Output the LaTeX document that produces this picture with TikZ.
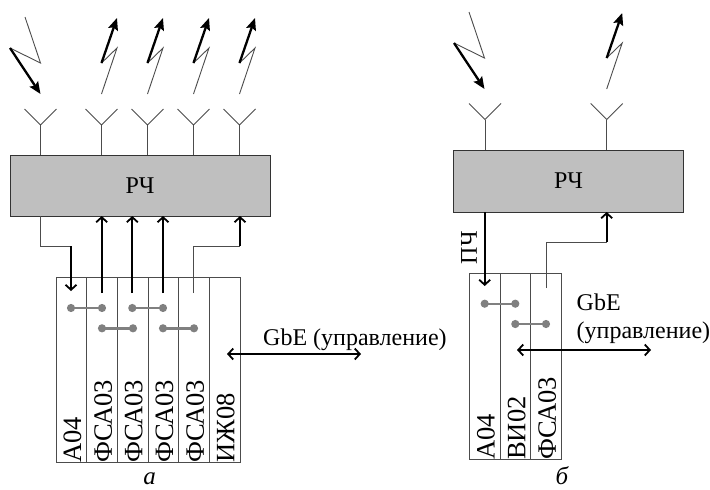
\documentclass[tikz,border=0pt]{standalone}
\usepackage{fontspec}
\setmainfont{Liberation Serif}
\usetikzlibrary{arrows.meta}
\tikzset{
  thin line/.style={draw=black!70,line width=0.9pt},
  thick line/.style={draw=black,line width=2.3pt},
  bolt arrow/.style={thick line,-{Stealth[length=12pt,width=10pt,inset=2pt]}},
  bus arrow/.style={thick line,-{Straight Barb[length=5pt,width=11pt,line width=1.8pt]}},
  both arrow/.style={thick line,{Straight Barb[length=5pt,width=11pt,line width=1.8pt]}-{Straight Barb[length=5pt,width=11pt,line width=1.8pt]}},
  rfbox/.style={draw=black!80,fill=black!25,line width=1pt,inner sep=0pt,outer sep=0pt,font=\fontsize{24}{26}\selectfont},
  slotbox/.style={draw=black!70,line width=0.9pt,inner sep=0pt,outer sep=0pt,anchor=north west},
  slotlabel/.style={rotate=90,anchor=west,inner sep=0pt,font=\fontsize{26.5}{28}\selectfont},
  link/.style={draw=black!50,line width=2.4pt,{Circle[length=8pt]}-{Circle[length=8pt]},shorten <=-4pt,shorten >=-4pt},
  txt/.style={inner sep=0pt,anchor=base west,font=\fontsize{24}{26}\selectfont},
  panel/.style={inner sep=0pt,anchor=base,font=\fontsize{25}{27}\selectfont\itshape}
}
\newcommand{\antenna}[3]{% x, y of fork, name
  \coordinate (#3) at (#1,#2);
  \coordinate (#3l) at (#1-16,#2-16);
  \coordinate (#3r) at (#1+16,#2-16);
  \draw[thin line] (#3l) -- (#3) -- (#3r);
}
\newcommand{\boltup}[3]{% x,y bottom, name
  \coordinate (#3a) at (#1,#2);
  \coordinate (#3b) at (#1+15.5,#2-46);
  \coordinate (#3c) at (#1,#2-31);
  \coordinate (#3d) at (#1+15.5,#2-76);
  \draw[thin line] (#3a) -- (#3b) -- (#3c);
  \draw[bolt arrow] (#3c) -- (#3d);
}
\newcommand{\boltdown}[3]{% x,y top, name
  \coordinate (#3a) at (#1,#2);
  \coordinate (#3b) at (#1+15.5,#2+46);
  \coordinate (#3c) at (#1-15,#2+31);
  \coordinate (#3d) at (#1+15.5,#2+77);
  \draw[thin line] (#3a) -- (#3b) -- (#3c);
  \draw[bolt arrow] (#3c) -- (#3d);
}
\begin{document}
\begin{tikzpicture}[x=1pt,y=-1pt]
\useasboundingbox (0,0) rectangle (710,490);
% ---------- panel a
\node[rfbox,minimum width=260pt,minimum height=61pt] (rfa) at (140,185.5) {РЧ};
\boltdown{25}{17}{la}
\boltup{101.5}{94}{lb}
\boltup{147.5}{94}{lc}
\boltup{193.5}{94}{ld}
\boltup{239.5}{94}{le}
\antenna{40.5}{125}{aa}
\antenna{101.5}{125}{ab}
\antenna{147.5}{125}{ac}
\antenna{193.5}{125}{ad}
\antenna{239.5}{125}{ae}
\foreach \n in {aa,ab,ac,ad,ae} \draw[thin line] (\n) -- (\n |- rfa.north);
% slots
\foreach \nm/\x/\t in {s1/56/А04,s2/86.7/ФСА03,s3/117.3/ФСА03,s4/148/ФСА03,s5/178.7/ФСА03,s6/209.3/ИЖ08}{
  \node[slotbox,minimum width=30.7pt,minimum height=185pt] (\nm) at (\x,277) {};
  \node[slotlabel] (\nm t) at ([xshift=16.5pt,yshift=-1pt]\nm.south west) {\t};
}
% connectors
\coordinate (p1) at (71,246);
\coordinate (p1e) at (71,291);
\draw[thin line] (rfa.south -| aa) |- (p1);
\draw[bus arrow] (p1) -- (p1e);
\foreach \nm/\x in {u2/101.7,u3/132.3,u4/163}{
  \coordinate (\nm) at (\x,293);
  \draw[bus arrow] (\nm) -- (\nm |- rfa.south);
}
\coordinate (u5) at (193.7,293);
\coordinate (u5m) at (240,246);
\draw[thin line] (u5) |- (u5m);
\draw[bus arrow] (u5m) -- (u5m |- rfa.south);
% links
\foreach \nm/\a/\b/\y in {k1/71/102/308,k2/132.3/163/308,k3/102/133/328.3,k4/163/194/328.3}{
  \coordinate (\nm a) at (\a,\y);
  \coordinate (\nm b) at (\b,\y);
  \draw[link] (\nm a) -- (\nm b);
}
\coordinate (ga) at (227,354);
\coordinate (gb) at (361,354);
\draw[both arrow] (ga) -- (gb);
\node[txt] (gt) at (263,345) {GbE (управление)};
\node[panel] (pa) at (149.5,484.5) {а};
% ---------- panel b
\node[rfbox,minimum width=229.5pt,minimum height=62pt] (rfb) at (568.5,181) {РЧ};
\boltdown{469}{12}{ma}
\boltup{606.7}{89}{mb}
\antenna{485}{119.5}{ba}
\antenna{606.7}{119.5}{bb}
\foreach \n in {ba,bb} \draw[thin line] (\n) -- (\n |- rfb.north);
\foreach \nm/\x/\t in {r1/469.5/А04,r2/500.2/ВИ02,r3/530.8/ФСА03}{
  \node[slotbox,minimum width=30.7pt,minimum height=186pt] (\nm) at (\x,273) {};
  \node[slotlabel] (\nm t) at ([xshift=16.5pt,yshift=-1pt]\nm.south west) {\t};
}
\coordinate (q1) at (484.7,286);
\draw[bus arrow] (rfb.south -| q1) -- (q1);
\coordinate (q2) at (546,288);
\coordinate (q3) at (606.7,242);
\draw[thin line] (q2) |- (q3);
\draw[bus arrow] (q3) -- (q3 |- rfb.south);
\node[rotate=90,anchor=west,inner sep=0pt,font=\fontsize{24}{26}\selectfont] (pch) at (469,264.5) {ПЧ};
\foreach \nm/\a/\b/\y in {j1/484.7/515.3/303.7,j2/515.3/546/324}{
  \coordinate (\nm a) at (\a,\y);
  \coordinate (\nm b) at (\b,\y);
  \draw[link] (\nm a) -- (\nm b);
}
\coordinate (ha) at (517,350);
\coordinate (hb) at (651,350);
\draw[both arrow] (ha) -- (hb);
\node[txt] (ht1) at (576.5,310) {GbE};
\node[txt] (ht2) at (576.5,338) {(управление)};
\node[panel] (pb) at (562,484.5) {б};
\end{tikzpicture}
\end{document}
